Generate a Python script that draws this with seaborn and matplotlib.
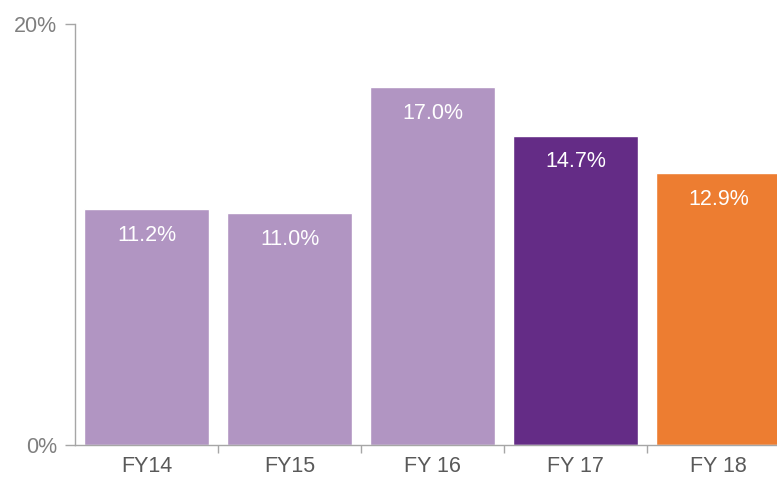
import numpy as np
import pandas as pd
import matplotlib.pyplot as plt
import seaborn as sns

years = ['FY14', 'FY15', 'FY 16', 'FY 17', 'FY 18']
growth = [11.2, 11.0, 17.0, 14.7, 12.9]
bar_colors = ['#B195C2', '#B195C2', '#B195C2', '#642C86', '#ED7D31']

df = pd.DataFrame({'year': years, 'growth': growth})

sns.set_style('white')
plt.rcParams['font.family'] = ['Liberation Sans', 'DejaVu Sans']

fig = plt.figure(figsize=(7.77, 4.79), dpi=100)
ax = fig.add_axes([75 / 777, 1 - 445 / 479, 715 / 777, 421 / 479])

sns.barplot(data=df, x='year', y='growth', hue='year', palette=bar_colors,
            width=0.88, saturation=1, legend=False, ax=ax)

for i, v in enumerate(growth):
    ax.annotate(f'{v:.1f}%', (i, v), xytext=(0, -19), textcoords='offset points',
                ha='center', va='center', color='white', fontsize=15.5)

ax.set_ylim(0, 20)
ax.set_xlim(-0.5, 4.5)
ax.set_yticks([0, 20])
ax.set_yticklabels(['0%', '20%'])
ax.set_xlabel('')
ax.set_ylabel('')

ax.set_xticks(np.arange(0.5, 4, 1), minor=True)
ax.tick_params(axis='x', which='major', length=0, pad=8, labelsize=15.5, labelcolor='#595959')
ax.tick_params(axis='x', which='minor', length=6, width=1, color='#A6A6A6', direction='out', bottom=True)
ax.tick_params(axis='y', length=7, width=1, color='#A6A6A6', direction='out', left=True,
               labelsize=15.5, labelcolor='#7F7F7F', pad=6)

for s in ['top', 'right']:
    ax.spines[s].set_visible(False)
for s in ['left', 'bottom']:
    ax.spines[s].set_color('#A6A6A6')
    ax.spines[s].set_linewidth(1)

fig.savefig('out.png', dpi=100)
